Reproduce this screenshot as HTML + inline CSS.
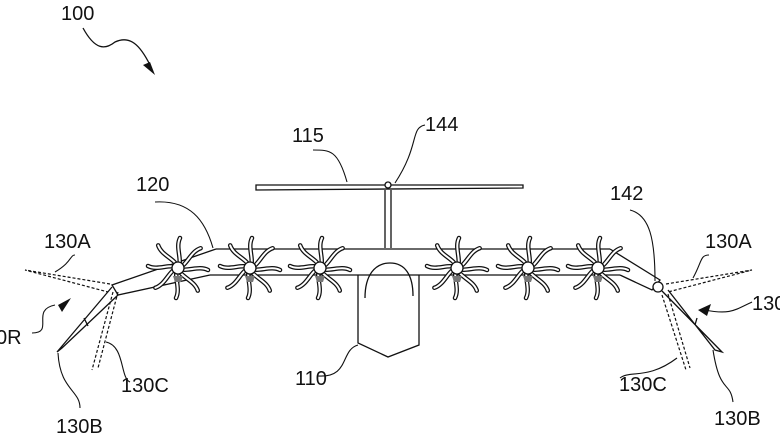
<!DOCTYPE html>
<html><head><meta charset="utf-8"><style>
html,body{margin:0;padding:0;background:#fff}
svg{display:block}
text{font-family:"Liberation Sans",sans-serif;font-size:20px;fill:#111}
</style></head><body>
<svg width="780" height="438" viewBox="0 0 780 438" xmlns="http://www.w3.org/2000/svg">
<defs>
<g id="blade"><path d="M0,0 C5,-8 -3,-20 2,-30" fill="none" stroke="#111" stroke-width="4.5" stroke-linecap="round"/><path d="M0,0 C5,-8 -3,-20 2,-30" fill="none" stroke="#fff" stroke-width="2" stroke-linecap="round"/></g>
<g id="prop">
<use href="#blade" transform="rotate(0)"/><use href="#blade" transform="rotate(45)"/><use href="#blade" transform="rotate(90)"/><use href="#blade" transform="rotate(135)"/><use href="#blade" transform="rotate(180)"/><use href="#blade" transform="rotate(225)"/><use href="#blade" transform="rotate(270)"/><use href="#blade" transform="rotate(315)"/>
<path d="M-5,8 L5,8 L3,14 L-3,14 Z" fill="#777"/>
<circle r="6" fill="#fff" stroke="#111" stroke-width="1.3"/>
</g>
</defs>
<g fill="none" stroke="#111" stroke-width="1.3">
<path d="M83,28 C95,50 105,50 115,42 C130,35 140,45 150,65"/>
<path d="M256,185 L523,185 L523,188 L256,190 Z" fill="#fff"/>
<path d="M385,190 L385,248 M391,190 L391,248"/>
<circle cx="388" cy="185" r="3" fill="#fff"/>
<path d="M358,275 L358,343 L388,357 L419,345 L419,275"/>
<path d="M365,298 C365,275 375,263 390,263 C405,263 413,275 413,296"/>
<path d="M216,249 L610,249 M210,275 L620,275"/>
<path d="M216,249 L112,285 L118,295 L210,275"/>
<path d="M610,249 L660,280 L652,290 L620,275"/>
<path d="M112,287 L57,352 L62,348 L118,295"/>
<path d="M84,318 L88,326"/>
<path d="M662,291 L722,352 L715,350 L668,290"/>
<path d="M697,318 L695,325"/>
<circle cx="658" cy="287" r="5" fill="#fff"/>
</g>
<g fill="none" stroke="#111" stroke-width="1.2" stroke-dasharray="3,2">
<path d="M110,284 L25,270 L108,292"/>
<path d="M113,292 L92,370 M118,292 L98,368"/>
<path d="M666,284 L752,270 L668,292"/>
<path d="M662,295 L686,370 M668,294 L690,368"/>
</g>
<use href="#prop" x="178" y="268"/>
<use href="#prop" x="250" y="268"/>
<use href="#prop" x="320" y="268"/>
<use href="#prop" x="457" y="268"/>
<use href="#prop" x="528" y="268"/>
<use href="#prop" x="598" y="268"/>
<g fill="none" stroke="#111" stroke-width="1.1">
<path d="M313,150 C330,150 338,150 347,182"/>
<path d="M425,125 C410,128 420,145 395,183"/>
<path d="M155,202 C190,200 205,220 213,248"/>
<path d="M630,210 C650,215 655,240 655,281"/>
<path d="M75,255 C70,255 72,262 55,272"/>
<path d="M709,255 C700,255 702,262 693,278"/>
<path d="M32,333 C55,333 30,310 55,305"/>
<path d="M752,302 C735,310 730,315 705,310"/>
<path d="M318,376 C350,378 340,350 358,345"/>
<path d="M130,382 C120,378 125,346 106,342"/>
<path d="M620,378 C630,370 648,380 677,358"/>
<path d="M80,408 C80,390 60,390 58,353"/>
<path d="M733,402 C730,380 720,395 713,350"/>
</g>
<path d="M143,65 L155,75 L150,62 Z" fill="#111"/>
<path d="M58,305 L71,298 L62,312 Z" fill="#111"/>
<path d="M698,310 L711,304 L707,316 Z" fill="#111"/>
<text x="61" y="20">100</text>
<text x="292" y="142">115</text>
<text x="425" y="131">144</text>
<text x="136" y="191">120</text>
<text x="610" y="200">142</text>
<text x="44" y="248">130A</text>
<text x="705" y="248">130A</text>
<text x="-4" y="344">0R</text>
<text x="752" y="310">130</text>
<text x="295" y="385">110</text>
<text x="121" y="392">130C</text>
<text x="619" y="391">130C</text>
<text x="56" y="433">130B</text>
<text x="714" y="425">130B</text>
</svg>
</body></html>
